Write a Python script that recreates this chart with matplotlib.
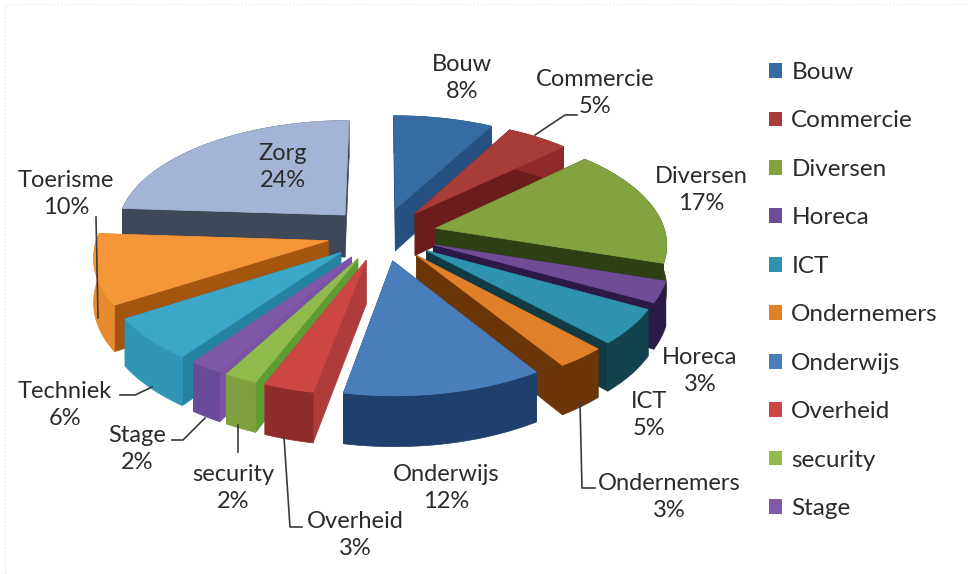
import numpy as np
import matplotlib
matplotlib.use("Agg")
import matplotlib.pyplot as plt
from matplotlib.patches import Polygon, Patch

categories = ['Bouw', 'Commercie', 'Diversen', 'Horeca', 'ICT', 'Ondernemers', 'Onderwijs',
              'Overheid', 'security', 'Stage', 'Techniek', 'Toerisme', 'Zorg']
values = [8, 5, 17, 3, 5, 3, 12, 3, 2, 2, 6, 10, 24]
legend_count = 10  # the legend is cut off after Stage

top_colors = ['#376ba3', '#a83c38', '#82a33f', '#6f4d94', '#2f93ad', '#e0812a', '#4a7ebb',
              '#cc4644', '#92bb4d', '#8058a8', '#3ba7c9', '#f59739', '#a3b4d6']
wall_colors = ['#25507f', '#6d1c1c', '#2e3f14', '#2b1a48', '#103a44', '#6b3508', '#1c3a63',
               '#b03b3b', '#5e9b33', '#7a52a8', '#2484a0', '#a4560f', '#3f4859']
rim_colors = ['#25507f', '#8e2a2a', '#2e3f14', '#2b1a48', '#12424d', '#6b3508', '#1f3f6c',
              '#8e2b2b', '#7ea03f', '#6a4a9a', '#2f97b5', '#e88a2e', '#3f4859']

# label centres, pixels
label_pos = [(462, 78), (595, 93), (701, 190), (700, 371), (649, 415), (669, 497), (446, 488),
             (355, 535), (233, 488), (137, 449), (65, 405), (66, 194), (283, 167)]
# leader lines, pixels
leaders = [[(535, 135), (565, 115), (577, 115)],
           [(96, 217), (98, 318)],
           [(152, 387), (135, 395), (120, 395)],
           [(205, 418), (183, 440), (172, 440)],
           [(238, 425), (238, 452)],
           [(284, 437), (290, 527), (302, 527)],
           [(580, 403), (582, 488), (595, 488)]]

# projection of the tilted pie
cx, cy = 382, 234
rx, ry = 230, 110.7
persp = 0.125
depth = 43
explode = 0.24


def project(x, y, z=0):
    w = 1 - persp * y
    return cx + rx * x / w, cy + (ry * y + depth * z) / w


def ground(t):
    return np.sin(t), -np.cos(t)


plt.rcParams['font.family'] = ['Lato', 'DejaVu Sans']

fig = plt.figure(figsize=(9.68, 5.74), dpi=100)
ax = fig.add_axes([0, 0, 1, 1])
ax.set_xlim(0, 968)
ax.set_ylim(574, 0)
ax.axis('off')

# faint dotted frame
ax.plot([5, 5, 968], [574, 4, 4], color='#e8e8e8', lw=1, ls=':')

fractions = np.array(values) / np.sum(values)
ends = np.cumsum(fractions) * 2 * np.pi
starts = ends - fractions * 2 * np.pi
mids = (starts + ends) / 2

# back slices first
order = np.argsort(-np.cos(mids))

for i in order:
    ox, oy = np.array(ground(mids[i])) * explode
    ts = np.linspace(starts[i], ends[i], 40)
    xs = np.sin(ts) + ox
    ys = -np.cos(ts) + oy

    top_arc = [project(x, y) for x, y in zip(xs, ys)]
    low_arc = [project(x, y, 1) for x, y in zip(xs, ys)]
    apex = project(ox, oy)
    apex_low = project(ox, oy, 1)

    # radial walls
    for arc_t, arc_l in ((top_arc[0], low_arc[0]), (top_arc[-1], low_arc[-1])):
        ax.add_patch(Polygon([apex, arc_t, arc_l, apex_low], fc=wall_colors[i], ec=wall_colors[i], lw=0.5))
    # outer rim
    ax.add_patch(Polygon(top_arc + low_arc[::-1], fc=rim_colors[i], ec=rim_colors[i], lw=0.5))
    # top face
    ax.add_patch(Polygon([apex] + top_arc, fc=top_colors[i], ec=top_colors[i], lw=0.5))

for pts in leaders:
    ax.plot([p[0] for p in pts], [p[1] for p in pts], color='#3a3a3a', lw=1.2)

for name, val, pos in zip(categories, values, label_pos):
    ax.text(pos[0], pos[1], f'{name}\n{val}%', ha='center', va='center', fontsize=17,
            color='#2b2b2b', linespacing=1.4)

handles = [Patch(fc=top_colors[i], ec='none', label=categories[i]) for i in range(legend_count)]
ax.legend(handles=handles, loc='upper left', bbox_to_anchor=(769 / 968, 1 - 62 / 574), frameon=False,
          fontsize=17.5, handlelength=0.55, handleheight=0.55, labelspacing=1.13, handletextpad=0.37,
          borderaxespad=0, borderpad=0, labelcolor='#2b2b2b')

fig.savefig('out.png', dpi=100)
